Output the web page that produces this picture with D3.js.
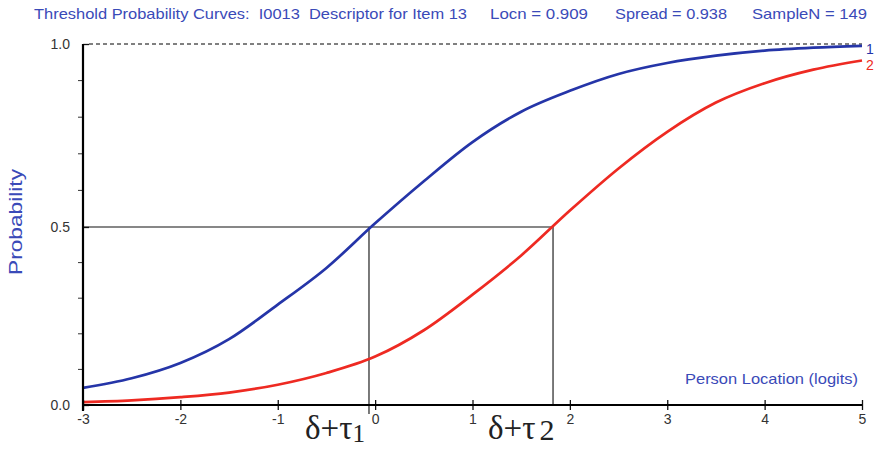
<!DOCTYPE html>
<html><head><meta charset="utf-8">
<script src="https://cdn.jsdelivr.net/npm/d3@7"></script>
<style>
html,body{margin:0;padding:0;background:#fff;}
svg{display:block;font-family:"Liberation Sans",Arial,sans-serif;}
</style></head>
<body>
<svg id="chart" width="880" height="449"></svg>
<script>
// ---- data ----
const xValues = [-3,-2.5,-2,-1.5,-1,-0.5,0,0.5,1,1.5,2,2.5,3,3.5,4,4.5,5];
const threshold1 = [0.048,0.075,0.118,0.185,0.282,0.385,0.51,0.625,0.732,0.815,0.872,0.918,0.948,0.968,0.982,0.99,0.995];
const threshold2 = [0.008,0.013,0.022,0.035,0.057,0.09,0.136,0.21,0.31,0.42,0.545,0.66,0.76,0.84,0.893,0.93,0.955];
const thresholdLocations = [-0.063, 1.827];
const xTicks = [-3,-2,-1,0,1,2,3,4,5];
const yTickLabels = [0,0.5,1];
const yMinorTicks = [0.1,0.2,0.3,0.4,0.6,0.7,0.8,0.9];
const titleParts = ["Threshold Probability Curves:  I0013  Descriptor for Item 13","Locn = 0.909","Spread = 0.938","SampleN = 149"];

const svg = d3.select("#chart");
const x = d3.scaleLinear().domain([-3,5]).range([83,862]);
const y = d3.scaleLinear().domain([0,0.5,1]).range([405,227,44]);
const blue = "#2535a8", red = "#ee2a22", txtBlue = "#3a4ab8";

// title
const titleX = [34,490,615,752], titleW = [433,98,112,115];
titleParts.forEach((t,i)=>{
  svg.append("text").attr("x",titleX[i]).attr("y",19).attr("fill",txtBlue)
    .attr("font-size",14.5).attr("xml:space","preserve").style("white-space","pre")
    .attr("textLength",titleW[i]).attr("lengthAdjust","spacingAndGlyphs").text(t);
});

// dashed line at 1.0
svg.append("line").attr("x1",x(-3)+6).attr("x2",x(5)).attr("y1",y(1)).attr("y2",y(1))
  .attr("stroke","#000").attr("stroke-width",1).attr("stroke-dasharray","4,3");

// reference lines
svg.append("line").attr("x1",x(-3)).attr("x2",x(thresholdLocations[1])).attr("y1",y(0.5)).attr("y2",y(0.5))
  .attr("stroke","#111").attr("stroke-width",1.2);
svg.append("line").attr("x1",x(thresholdLocations[0])).attr("x2",x(thresholdLocations[0])).attr("y1",y(0.5)).attr("y2",y(0)+9)
  .attr("stroke","#222").attr("stroke-width",1.2);
svg.append("line").attr("x1",x(thresholdLocations[1])).attr("x2",x(thresholdLocations[1])).attr("y1",y(0.5)).attr("y2",y(0))
  .attr("stroke","#222").attr("stroke-width",1.2);

// curves
const line = d3.line().x((d,i)=>x(xValues[i])).y(d=>y(d)).curve(d3.curveMonotoneX);
svg.append("path").datum(threshold2).attr("d",line).attr("fill","none").attr("stroke",red).attr("stroke-width",2.7);
svg.append("path").datum(threshold1).attr("d",line).attr("fill","none").attr("stroke",blue).attr("stroke-width",2.7);

// y axis
const yAxis = d3.axisLeft(y).tickValues(yTickLabels).tickFormat(d3.format(".1f")).tickSize(10).tickPadding(3);
const ga = svg.append("g").attr("transform",`translate(${x(-3)},0)`).call(yAxis);
ga.select(".domain").remove();
ga.selectAll(".tick line").attr("x2",6).attr("stroke","#111").attr("stroke-width",1.3);
ga.selectAll(".tick text").attr("font-size",14).attr("fill","#333").attr("font-family","Liberation Sans, Arial, sans-serif");
svg.append("g").selectAll("line").data(yMinorTicks).join("line")
  .attr("x1",x(-3)-5).attr("x2",x(-3)).attr("y1",d=>y(d)).attr("y2",d=>y(d)).attr("stroke","#333").attr("stroke-width",1);

// x axis
const xAxis = d3.axisBottom(x).tickValues(xTicks).tickFormat(d=>String(d)).tickSize(5).tickPadding(4);
const gx = svg.append("g").attr("transform",`translate(0,${y(0)})`).call(xAxis);
gx.select(".domain").remove();
gx.selectAll(".tick line").attr("y1",-5).attr("stroke","#111").attr("stroke-width",1.3);
gx.selectAll(".tick text").attr("font-size",14).attr("fill","#333").attr("font-family","Liberation Sans, Arial, sans-serif");

// axis lines
svg.append("line").attr("x1",x(-3)).attr("x2",x(-3)).attr("y1",y(1)).attr("y2",y(0)+6).attr("stroke","#000").attr("stroke-width",2.2);
svg.append("line").attr("x1",x(-3)).attr("x2",x(5)).attr("y1",y(0)).attr("y2",y(0)).attr("stroke","#000").attr("stroke-width",2.2);

// axis titles
svg.append("text").attr("transform","translate(22,222) rotate(-90)").attr("text-anchor","middle")
  .attr("fill",txtBlue).attr("font-size",18).attr("textLength",106).attr("lengthAdjust","spacingAndGlyphs").text("Probability");
svg.append("text").attr("x",685).attr("y",384).attr("fill",txtBlue)
  .attr("font-size",15).attr("textLength",173).attr("lengthAdjust","spacingAndGlyphs").text("Person Location (logits)");

// curve labels
svg.append("text").attr("x",866).attr("y",y(threshold1[16])+8).attr("fill",blue).attr("font-size",14).text("1");
svg.append("text").attr("x",866).attr("y",y(threshold2[16])+10).attr("fill",red).attr("font-size",14).text("2");

// threshold annotations
const ann = [{x:305,sub:"1",sy:3,dx:0,fs:25},{x:488,sub:"2",sy:1,dx:4,fs:30}];
ann.forEach(a=>{
  const t = svg.append("text").attr("x",a.x).attr("y",439).attr("font-family","Liberation Serif, Times New Roman, serif")
    .attr("font-size",33).attr("fill","#222");
  t.append("tspan").text("δ+τ");
  t.append("tspan").attr("dy",a.sy).attr("dx",a.dx).attr("font-size",a.fs).text(a.sub);
});
</script>
</body></html>
